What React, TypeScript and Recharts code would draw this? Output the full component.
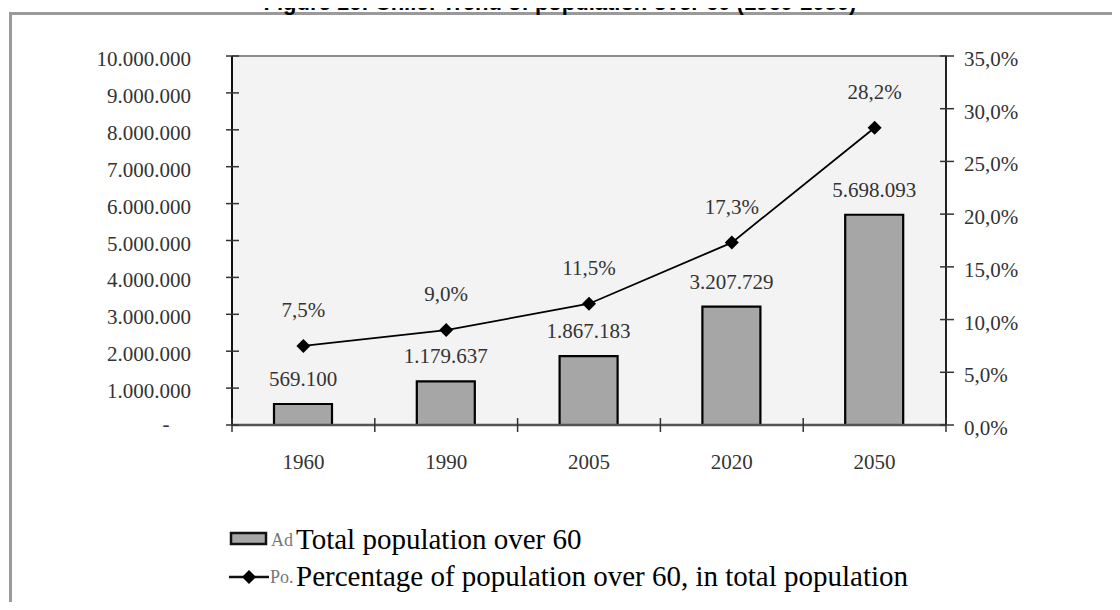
import React from 'react';
import {
  ComposedChart,
  Bar,
  Line,
  XAxis,
  YAxis,
  CartesianGrid,
  ReferenceLine,
  LabelList,
  Legend,
} from 'recharts';

// ---------- data ----------
const years = ['1960', '1990', '2005', '2020', '2050'];
const totalOver60 = [569100, 1179637, 1867183, 3207729, 5698093];
const pctOver60 = [7.5, 9.0, 11.5, 17.3, 28.2];
const leftTicks = [0, 1000000, 2000000, 3000000, 4000000, 5000000, 6000000, 7000000, 8000000, 9000000, 10000000];
const rightTicks = [0, 5, 10, 15, 20, 25, 30, 35];
const titleText = 'Figure 16: Chile: Trend of population over 60 (1960-2050)';
const legendBarShort = 'Ad';
const legendBarText = 'Total population over 60';
const legendLineShort = 'Po.';
const legendLineText = 'Percentage of population over 60, in total population';

const data = years.map((year, i) => ({ year, total: totalOver60[i], pct: pctOver60[i] }));

// ---------- layout ----------
const W = 1120;
const H = 610;
const PLOT_LEFT = 232;
const PLOT_RIGHT = 946;
const PLOT_TOP = 56;
const PLOT_BOTTOM = 425;
const BAND = (PLOT_RIGHT - PLOT_LEFT) / years.length;
const SERIF = '"Liberation Serif", "Times New Roman", serif';
const LABEL_COLOR = '#333';
const TICK_COLOR = '#333';

const fmtNum = (n: number) => String(n).replace(/\B(?=(\d{3})+(?!\d))/g, '.');
const fmtPct = (v: number) => v.toFixed(1).replace('.', ',') + '%';

const LeftTick = (props: any) => {
  const { x, y, payload } = props;
  const v = payload.value;
  return (
    <g>
      <line x1={x - 6} x2={x + 7} y1={y} y2={y} stroke={TICK_COLOR} strokeWidth={1.5} />
      {v === 0 ? (
        <text x={x - 66} y={y + 6} textAnchor="middle" fontFamily={SERIF} fontSize={21} fill={LABEL_COLOR}>
          -
        </text>
      ) : (
        <text x={x - 41} y={y + 10} textAnchor="end" fontFamily={SERIF} fontSize={21} fill={LABEL_COLOR}>
          {fmtNum(v)}
        </text>
      )}
    </g>
  );
};

const RightTick = (props: any) => {
  const { x, y, payload } = props;
  return (
    <g>
      <line x1={x - 6} x2={x + 8} y1={y} y2={y} stroke={TICK_COLOR} strokeWidth={1.5} />
      <text x={x + 18} y={y + 10} textAnchor="start" fontFamily={SERIF} fontSize={21} fill={LABEL_COLOR}>
        {fmtPct(payload.value)}
      </text>
    </g>
  );
};

const XTick = (props: any) => {
  const { x, y, payload } = props;
  const idx = years.indexOf(payload.value);
  const last = idx === years.length - 1;
  return (
    <g>
      <line x1={x - BAND / 2} x2={x - BAND / 2} y1={y - 7} y2={y + 7} stroke={TICK_COLOR} strokeWidth={1.5} />
      {last && <line x1={x + BAND / 2} x2={x + BAND / 2} y1={y - 7} y2={y + 7} stroke={TICK_COLOR} strokeWidth={1.5} />}
      <text x={x} y={y + 44} textAnchor="middle" fontFamily={SERIF} fontSize={21} fill={LABEL_COLOR}>
        {payload.value}
      </text>
    </g>
  );
};

const BarValueLabel = (props: any) => {
  const { x, y, width, value } = props;
  return (
    <text x={x + width / 2} y={y - 18} textAnchor="middle" fontFamily={SERIF} fontSize={21} fill={LABEL_COLOR}>
      {fmtNum(value)}
    </text>
  );
};

const PctLabel = (props: any) => {
  const { x, y, value } = props;
  return (
    <text x={x} y={y - 29} textAnchor="middle" fontFamily={SERIF} fontSize={21} fill={LABEL_COLOR}>
      {fmtPct(value)}
    </text>
  );
};

const Diamond = (props: any) => {
  const { cx, cy } = props;
  if (cx == null || cy == null) return null;
  const r = 7;
  return <polygon points={`${cx},${cy - r} ${cx + r},${cy} ${cx},${cy + r} ${cx - r},${cy}`} fill="#000" />;
};

const LegendContent = () => (
  <div style={{ position: 'relative', width: W, height: H }}>
    <svg style={{ position: 'absolute', left: 229, top: 531 }} width={40} height={16}>
      <rect x={2} y={2} width={35} height={11} fill="#a6a6a6" stroke="#111" strokeWidth={2.5} />
    </svg>
    <div style={{ position: 'absolute', left: 271, top: 529, fontFamily: SERIF, fontSize: 18, color: '#777', lineHeight: '22px' }}>
      {legendBarShort}
    </div>
    <div style={{ position: 'absolute', left: 296, top: 522, fontFamily: SERIF, fontSize: 29, color: '#000', lineHeight: '34px', whiteSpace: 'nowrap' }}>
      {legendBarText}
    </div>
    <svg style={{ position: 'absolute', left: 228, top: 568 }} width={42} height={18}>
      <line x1={1} x2={41} y1={9} y2={9} stroke="#111" strokeWidth={2.5} />
      <polygon points="21,2 28,9 21,16 14,9" fill="#000" />
    </svg>
    <div style={{ position: 'absolute', left: 270, top: 566, fontFamily: SERIF, fontSize: 18, color: '#777', lineHeight: '22px' }}>
      {legendLineShort}
    </div>
    <div style={{ position: 'absolute', left: 296, top: 559, fontFamily: SERIF, fontSize: 29, color: '#000', lineHeight: '34px', whiteSpace: 'nowrap' }}>
      {legendLineText}
    </div>
  </div>
);

export default function App() {
  return (
    <div style={{ position: 'relative', width: W, height: H, margin: -8, overflow: 'hidden', background: '#fff' }}>
      {/* frame */}
      <div
        style={{
          position: 'absolute',
          left: 9,
          top: 12,
          width: W + 50,
          height: H + 50,
          borderTop: '3px solid #9a9a9a',
          borderLeft: '3px solid #9a9a9a',
        }}
      />
      {/* title */}
      <svg style={{ position: 'absolute', left: 0, top: 0 }} width={W} height={20}>
        <text x={560} y={10} textAnchor="middle" fontFamily='"Liberation Sans", Arial, sans-serif' fontWeight="bold" fontSize={22} fill="#000">
          {titleText}
        </text>
      </svg>
      <div style={{ position: 'absolute', left: 0, top: 0 }}>
        <ComposedChart width={W} height={H} data={data} margin={{ top: PLOT_TOP, right: 0, bottom: 0, left: 0 }}>
          <CartesianGrid fill="#f3f3f3" horizontal={false} vertical={false} yAxisId="left" />
          <XAxis
            dataKey="year"
            height={H - PLOT_BOTTOM}
            tickSize={0}
            tickMargin={0}
            tickLine={false}
            interval={0}
            axisLine={{ stroke: '#555', strokeWidth: 2.5 }}
            tick={(p: any) => <XTick {...p} />}
          />
          <YAxis
            yAxisId="left"
            orientation="left"
            width={PLOT_LEFT}
            domain={[0, 10000000]}
            ticks={leftTicks}
            interval={0}
            tickSize={0}
            tickMargin={0}
            tickLine={false}
            axisLine={{ stroke: '#111', strokeWidth: 2 }}
            tick={(p: any) => <LeftTick {...p} />}
          />
          <YAxis
            yAxisId="right"
            orientation="right"
            width={W - PLOT_RIGHT}
            domain={[0, 35]}
            ticks={rightTicks}
            interval={0}
            tickSize={0}
            tickMargin={0}
            tickLine={false}
            axisLine={{ stroke: '#222', strokeWidth: 2 }}
            tick={(p: any) => <RightTick {...p} />}
          />
          <ReferenceLine yAxisId="left" y={10000000} stroke="#8c8c8c" strokeWidth={2} />
          <Bar yAxisId="left" dataKey="total" fill="#a6a6a6" stroke="#000" strokeWidth={2.2} barSize={58} isAnimationActive={false}>
            <LabelList dataKey="total" content={(p: any) => <BarValueLabel {...p} />} />
          </Bar>
          <Line
            yAxisId="right"
            type="linear"
            dataKey="pct"
            stroke="#000"
            strokeWidth={1.8}
            dot={(p: any) => <Diamond key={p.index} {...p} />}
            activeDot={false}
            isAnimationActive={false}
          >
            <LabelList dataKey="pct" content={(p: any) => <PctLabel {...p} />} />
          </Line>
          <Legend
            layout="horizontal"
            align="center"
            verticalAlign="middle"
            wrapperStyle={{ position: 'absolute', left: 0, top: 0, width: W, height: H, pointerEvents: 'none' }}
            content={() => <LegendContent />}
          />
        </ComposedChart>
      </div>
    </div>
  );
}
